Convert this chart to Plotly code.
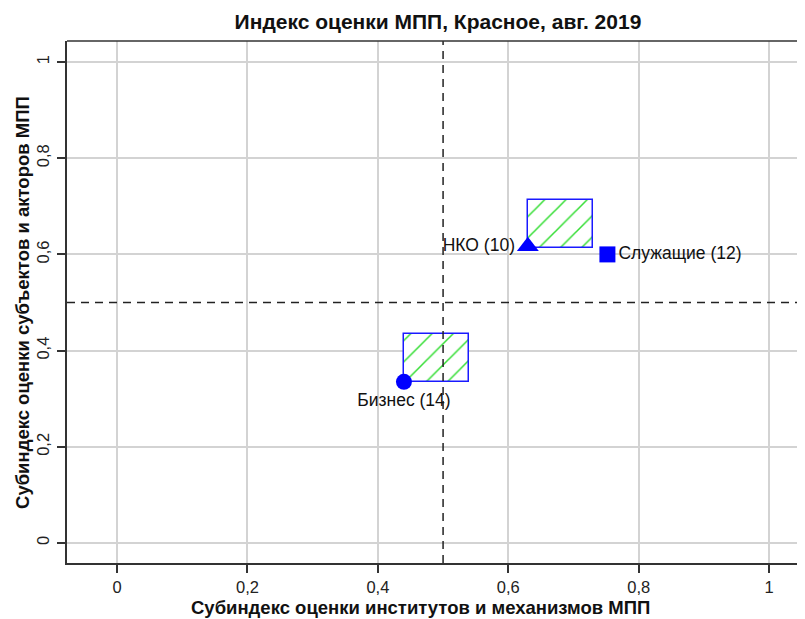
import plotly.graph_objects as go

# Data
groups = ["Бизнес (14)", "НКО (10)", "Служащие (12)"]
x_vals = [0.44, 0.63, 0.752]
y_vals = [0.335, 0.617, 0.60]
symbols = ["circle", "triangle-up", "square"]
text_pos = ["bottom center", "middle left", "middle right"]

# hatched reference boxes (x0, y0, width, height)
box_x0 = [0.44, 0.63]
box_y0 = [0.335, 0.613]
box_w = [0.1, 0.1]
box_h = [0.1, 0.1]

tick_vals = [0, 0.2, 0.4, 0.6, 0.8, 1]
tick_text = ["0", "0,2", "0,4", "0,6", "0,8", "1"]

title = "Индекс оценки МПП, Красное, авг. 2019"
x_title = "Субиндекс оценки институтов и механизмов МПП"
y_title = "Субиндекс оценки субъектов и акторов МПП"

bold = "Liberation Sans Narrow, Liberation Sans, Arial, sans-serif"
regular = "Liberation Sans, Arial, sans-serif"

fig = go.Figure()

fig.add_trace(go.Bar(
    x=[x0 + w / 2 for x0, w in zip(box_x0, box_w)],
    y=box_h,
    base=box_y0,
    width=box_w,
    opacity=1,
    marker=dict(
        color="white",
        opacity=1,
        line=dict(color="#1a1aff", width=1.5),
        pattern=dict(shape="/", fgcolor="#33dd33", bgcolor="white", size=15,
                     solidity=0.1, fgopacity=1),
    ),
    showlegend=False,
    hoverinfo="skip",
))

fig.add_trace(go.Scatter(
    x=x_vals, y=y_vals,
    mode="markers+text",
    opacity=1,
    marker=dict(symbol=symbols, size=[16, 19, 16], color="#0000ff", opacity=1, line=dict(width=0)),
    text=groups,
    textposition=text_pos,
    textfont=dict(family=regular, size=17.5, color="#111111"),
    showlegend=False,
    cliponaxis=False,
    hoverinfo="skip",
))

# dashed reference lines
fig.add_shape(type="line", xref="x", yref="paper", x0=0.5, x1=0.5, y0=0, y1=1,
              line=dict(color="#222222", width=1.5, dash="8px,6px"))
fig.add_shape(type="line", xref="paper", yref="y", x0=0, x1=1, y0=0.5, y1=0.5,
              line=dict(color="#222222", width=1.5, dash="8px,6px"))
# top border
fig.add_shape(type="line", xref="paper", yref="paper", x0=0, x1=1, y0=1, y1=1,
              line=dict(color="#333333", width=1.5))

# axis titles as annotations for exact placement
fig.add_annotation(text=x_title, xref="paper", yref="paper", x=0.479, y=-0.0843,
                   xanchor="center", yanchor="middle", showarrow=False,
                   font=dict(family=bold, size=18.5, color="#111111", weight="bold"))
fig.add_annotation(text=y_title, xref="paper", yref="paper", x=-0.061, y=0.5,
                   xanchor="center", yanchor="middle", showarrow=False, textangle=-90,
                   font=dict(family=bold, size=18.5, color="#111111", weight="bold"))

fig.update_layout(
    width=797, height=611,
    margin=dict(l=59, r=0, t=33, b=56, autoexpand=False),
    plot_bgcolor="white", paper_bgcolor="white",
    title=dict(text=title, xref="container", yref="container", x=0.5395, xanchor="center",
               y=0.977, yanchor="middle",
               font=dict(family=bold, size=21, color="#111111", weight="bold")),
    xaxis=dict(
        range=[-0.0767, 1.055],
        automargin=False,
        tickvals=tick_vals, ticktext=tick_text,
        showgrid=True, gridcolor="#d3d3d3", gridwidth=1.5,
        zeroline=False,
        showline=True, linecolor="#333333", linewidth=1.5,
        ticks="outside", ticklen=8, tickcolor="#333333", tickwidth=1.5,
        tickfont=dict(family=regular, size=16.5, color="#222222"),
    ),
    yaxis=dict(
        range=[-0.0416, 1.0437],
        automargin=False,
        tickvals=tick_vals, ticktext=tick_text,
        tickangle=-90,
        ticklabelstandoff=2,
        showgrid=True, gridcolor="#d3d3d3", gridwidth=1.5,
        zeroline=False,
        showline=True, linecolor="#333333", linewidth=1.5,
        ticks="outside", ticklen=8, tickcolor="#333333", tickwidth=1.5,
        tickfont=dict(family=regular, size=16.5, color="#222222"),
    ),
    bargap=0,
)

fig.write_html("out.html")
